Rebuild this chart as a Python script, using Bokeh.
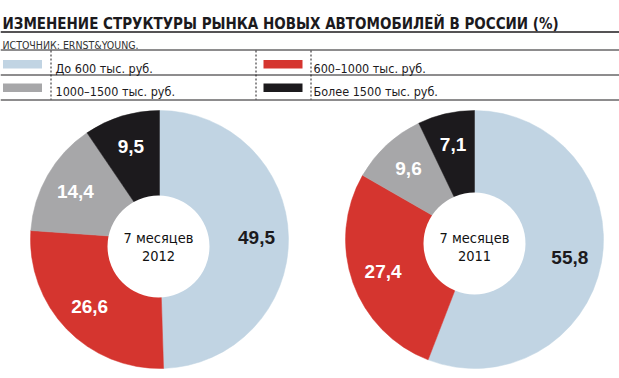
import math
from bokeh.plotting import figure
from bokeh.models import Range1d, ColumnDataSource
from bokeh.core.properties import value
from bokeh.embed import file_html
from bokeh.resources import INLINE

# ---- data ----
title = "ИЗМЕНЕНИЕ СТРУКТУРЫ РЫНКА НОВЫХ АВТОМОБИЛЕЙ В РОССИИ (%)"
source_note = "ИСТОЧНИК: ERNST&YOUNG."
categories = ["До 600 тыс. руб.", "600–1000 тыс. руб.", "1000–1500 тыс. руб.", "Более 1500 тыс. руб."]
colors = ["#c1d4e3", "#d5352f", "#a7a7a9", "#1c1a1d"]
label_colors = ["#1c1a1d", "#ffffff", "#ffffff", "#ffffff"]
values_2012 = [49.5, 26.6, 14.4, 9.5]
values_2011 = [55.8, 27.4, 9.6, 7.1]
period_label = "7 месяцев"
years = ["2012", "2011"]

FONT = "'DejaVu Sans Condensed', 'Liberation Sans', sans-serif"
FONT_B = "Liberation Sans"

W, H = 619, 378
p = figure(width=W, height=H, output_backend="svg", toolbar_location=None,
           x_range=Range1d(0, W), y_range=Range1d(0, H), min_border=0)
p.axis.visible = False
p.grid.visible = False
p.outline_line_color = None
p.background_fill_color = "white"


def Y(ry):
    return H - ry


# ---- header ----
p.text(x=[2], y=[Y(23)], text=[title], text_font=value(FONT), text_font_style="bold",
       text_font_size="15px", text_color="#1c1a1d", text_baseline="alphabetic")
p.segment(x0=[0], y0=[Y(31.5)], x1=[W], y1=[Y(31.5)], line_color="#1c1a1d", line_width=1.5)
p.text(x=[2], y=[Y(44)], text=[source_note], text_font=value(FONT), text_font_size="10.5px",
       text_color="#333333", text_baseline="alphabetic")
for ry in [49.5, 74.5, 99.5]:
    p.segment(x0=[0], y0=[Y(ry)], x1=[W], y1=[Y(ry)], line_color="#1c1a1d", line_width=1)
for rx in [50.5, 255.5, 310.5]:
    p.segment(x0=[rx], y0=[Y(50)], x1=[rx], y1=[Y(99)], line_color="#1c1a1d",
              line_width=1, line_dash="2 2")

# legend (2x2)
sw_x = [2.5, 263, 2.5, 263]
tx_x = [55, 313, 55, 313]
row_top = [59.5, 59.5, 83, 83]
row_base = [67.5, 67.5, 91, 91]
for i, cat in enumerate(categories):
    p.quad(left=[sw_x[i]], right=[sw_x[i] + 39], top=[Y(row_top[i])], bottom=[Y(row_top[i] + 8.5)],
           fill_color=colors[i], line_color=None)
    p.text(x=[tx_x[i]], y=[Y(row_base[i])], text=[cat], text_font=value(FONT),
           text_font_size="12.5px", text_color="#1c1a1d", text_baseline="alphabetic")

# ---- donuts ----
centers = [(159, 239), (474, 239)]
holes = [(158, 246), (474, 243)]
R = 129
R_HOLE = 51
R_LABEL = 97

for (cx, cy), (hx, hy), vals, yr in zip(centers, holes, [values_2012, values_2011], years):
    total = sum(vals)
    starts, ends, lx, ly = [], [], [], []
    cum = 0.0
    for v in vals:
        a0 = math.pi / 2 - 2 * math.pi * cum / total
        a1 = math.pi / 2 - 2 * math.pi * (cum + v) / total
        starts.append(a1)
        ends.append(a0)
        mid = (a0 + a1) / 2
        lx.append(cx + R_LABEL * math.cos(mid))
        ly.append(Y(cy) + R_LABEL * math.sin(mid))
        cum += v
    src = ColumnDataSource(dict(start=starts, end=ends, color=colors,
                                lx=lx, ly=ly, lab=[f"{v:.1f}".replace(".", ",") for v in vals],
                                lc=label_colors))
    p.wedge(x=cx, y=Y(cy), radius=R, start_angle="start", end_angle="end",
            direction="anticlock", fill_color="color", line_color="color", line_width=0.5,
            source=src)
    p.circle(x=[hx], y=[Y(hy)], radius=R_HOLE, fill_color="white", line_color=None)
    p.text(x="lx", y="ly", text="lab", text_color="lc", text_font=value(FONT_B),
           text_font_style="bold", text_font_size="19px", text_align="center",
           text_baseline="middle", source=src)
    p.text(x=[hx], y=[Y(237)], text=[period_label], text_font=value(FONT), text_font_size="14.5px",
           text_color="#111111", text_align="center", text_baseline="middle")
    p.text(x=[hx], y=[Y(255)], text=[yr], text_font=value(FONT), text_font_size="14.5px",
           text_color="#111111", text_align="center", text_baseline="middle")

open("out.html", "w").write(file_html(p, INLINE))
